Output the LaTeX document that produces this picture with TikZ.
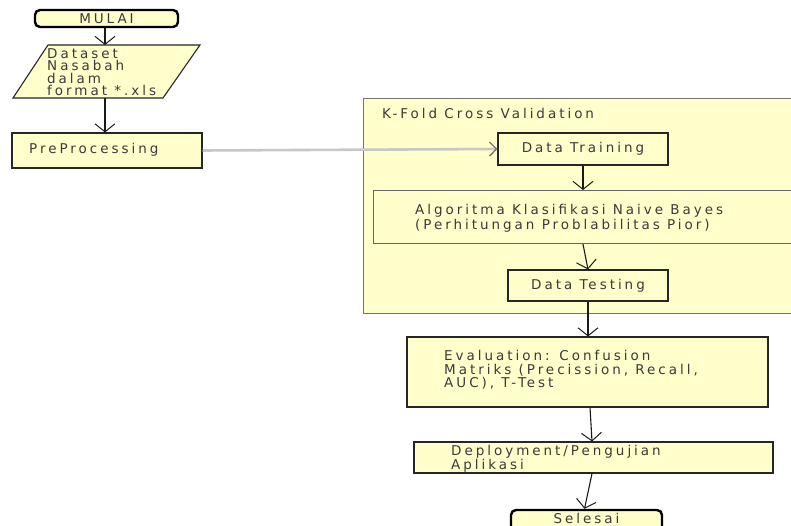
\documentclass[tikz,border=0pt]{standalone}
\usepackage{fontspec}
\newfontfamily\widesans[LetterSpace=22]{DejaVu Sans}
\usetikzlibrary{arrows.meta,calc}
\definecolor{boxfill}{HTML}{FFFFCC}
\definecolor{txt}{HTML}{3A3A3A}
\begin{document}
\begin{tikzpicture}[x=1pt,y=-1pt,
  every node/.style={font=\widesans\fontsize{13.5}{13.5}\selectfont, text=txt, inner sep=0pt},
  box/.style={draw=black!85, line width=1.1pt, fill=boxfill},
  term/.style={draw=black, line width=2.4pt, fill=boxfill, rounded corners=5pt},
  arr/.style={draw=black!90, line width=1.1pt, -{Straight Barb[length=8pt,width=20pt,line width=1pt]}},
  garr/.style={draw=black!22, line width=2.6pt, -{Straight Barb[length=7pt,width=14pt,line width=1.3pt,color=black!55]}},
  lbl/.style={align=left, anchor=west}
]
\useasboundingbox (0,0) rectangle (791,526);
\clip (0,0) rectangle (791,526);
% container
\node[draw=black!55, line width=1.1pt, fill=boxfill, minimum width=450pt, minimum height=215pt, anchor=north west] (kf) at (363,98) {};
\node[lbl] (kft) at (382,113) {K-Fold Cross Validation};
% start
\node[term, minimum width=143pt, minimum height=17pt] (mulai) at (106.5,18.5) {MULAI};
% dataset parallelogram
\coordinate (dtl) at (48,45);
\coordinate (dtr) at (200,45);
\coordinate (dbr) at (163,98);
\coordinate (dbl) at (13,98);
\draw[box] (dtl) -- (dtr) -- (dbr) -- (dbl) -- cycle;
\node[lbl, font=\widesans\fontsize{13.5}{12.5}\selectfont] (ds) at (47,72) {Dataset\\Nasabah\\dalam\\format *.xls};
\coordinate (dstop) at (105,45);
\coordinate (dsbot) at (105,98);
% preprocessing
\node[box, minimum width=190pt, minimum height=35pt] (pre) at (107,150.5) {};
\node[lbl] (pret) at (29,150) {PreProcessing};
% data training
\node[box, minimum width=170pt, minimum height=32pt] (train) at (583,149) {Data Training};
% algoritma
\node[box, draw=black!60, minimum width=440pt, minimum height=53pt, anchor=north west] (alg) at (373,190) {};
\node[lbl, font=\widesans\fontsize{13.5}{15}\selectfont] (algt) at (415,218) {Algoritma Klasifikasi Naive Bayes\\(Perhitungan Problabilitas Pior)};
% data testing
\node[box, minimum width=160pt, minimum height=31pt] (test) at (588,285.5) {Data Testing};
% evaluation
\node[box, minimum width=361pt, minimum height=70pt] (eval) at (587.5,372) {};
\node[lbl] (evalt) at (444,370) {Evaluation: Confusion\\Matriks (Precission, Recall,\\AUC), T-Test};
% deployment
\node[box, minimum width=359pt, minimum height=31pt] (dep) at (593.5,457.5) {};
\node[lbl, font=\widesans\fontsize{13.5}{12.5}\selectfont] (dept) at (451,459) {Deployment/Pengujian\\Aplikasi};
% selesai
\node[term, minimum width=151pt, minimum height=22pt] (sel) at (586.5,521) {};
\node (selt) at (586.5,518) {Selesai};
% connectors
\draw[arr] (mulai.south -| dstop) -- (dstop);
\draw[arr] (dsbot) -- (pre.north -| dsbot);
\draw[garr] (pre.east) -- (train.west);
\draw[arr] (train.south) -- (train.south |- alg.north);
\draw[arr] ([xshift=-5pt]test.north |- alg.south) -- (test.north);
\draw[arr] (test.south) -- (test.south |- eval.north);
\draw[arr] ([xshift=2pt]test.south |- eval.south) -- ([xshift=4pt]test.south |- dep.north);
\draw[arr] ([xshift=4pt]test.south |- dep.south) -- ([xshift=-2pt]sel.north);
\end{tikzpicture}
\end{document}
